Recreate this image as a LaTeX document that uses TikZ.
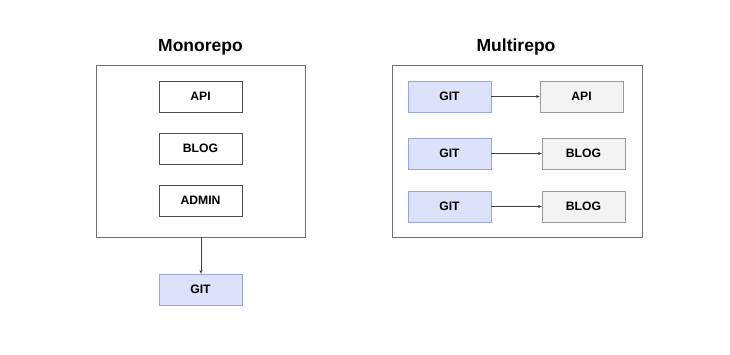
\documentclass[tikz,border=0pt]{standalone}
\usepackage{fontspec}
\setmainfont{Liberation Sans}
\usetikzlibrary{arrows.meta}
\definecolor{gitfill}{HTML}{DCE2FA}
\definecolor{gitdraw}{HTML}{9AA6DA}
\definecolor{grayfill}{HTML}{F3F3F3}
\definecolor{grayline}{HTML}{9A9A9A}
\definecolor{outerline}{HTML}{707070}
\tikzset{
  px/.style={x=1pt,y=-1pt},
  repobox/.style={draw=outerline, line width=0.8pt},
  appbox/.style={draw=black!70, line width=0.7pt, fill=white, minimum width=83pt, minimum height=31pt, inner sep=0pt, font=\bfseries\fontsize{12.2}{14}\selectfont},
  gitbox/.style={appbox, draw=gitdraw, fill=gitfill},
  grbox/.style={appbox, draw=grayline, fill=grayfill},
  title/.style={font=\bfseries\fontsize{17.5}{21}\selectfont},
  conn/.style={draw=black!75, line width=0.5pt, -{Stealth[length=3.5pt,width=3pt]}}
}
\begin{document}
\begin{tikzpicture}[px]
\useasboundingbox (0,0) rectangle (730,354);
\fill[white] (0,0) rectangle (730,354);
% Monorepo
\node[title] (t1) at (200.5,47) {Monorepo};
\draw[repobox] (96,65) rectangle (305,237);
\coordinate (mbot) at (201,237);
\node[appbox] (api) at (200.5,96.5) {API};
\node[appbox] (blog) at (200.5,148.5) {BLOG};
\node[appbox] (admin) at (200.5,200.5) {ADMIN};
\node[gitbox] (mgit) at (200.5,289.5) {GIT};
\draw[conn] (mbot) -- (mgit.north -| mbot);
% Multirepo
\node[title] (t2) at (516,47) {Multirepo};
\draw[repobox] (392,65) rectangle (642,237);
\node[gitbox] (g1) at (449.5,96.5) {GIT};
\node[gitbox] (g2) at (449.5,153.5) {GIT};
\node[gitbox] (g3) at (449.5,206.5) {GIT};
\node[grbox] (r1) at (581.5,96.5) {API};
\node[grbox] (r2) at (583.5,153.5) {BLOG};
\node[grbox] (r3) at (583.5,206.5) {BLOG};
\draw[conn] (g1) -- (r1);
\draw[conn] (g2) -- (r2);
\draw[conn] (g3) -- (r3);
\end{tikzpicture}
\end{document}
